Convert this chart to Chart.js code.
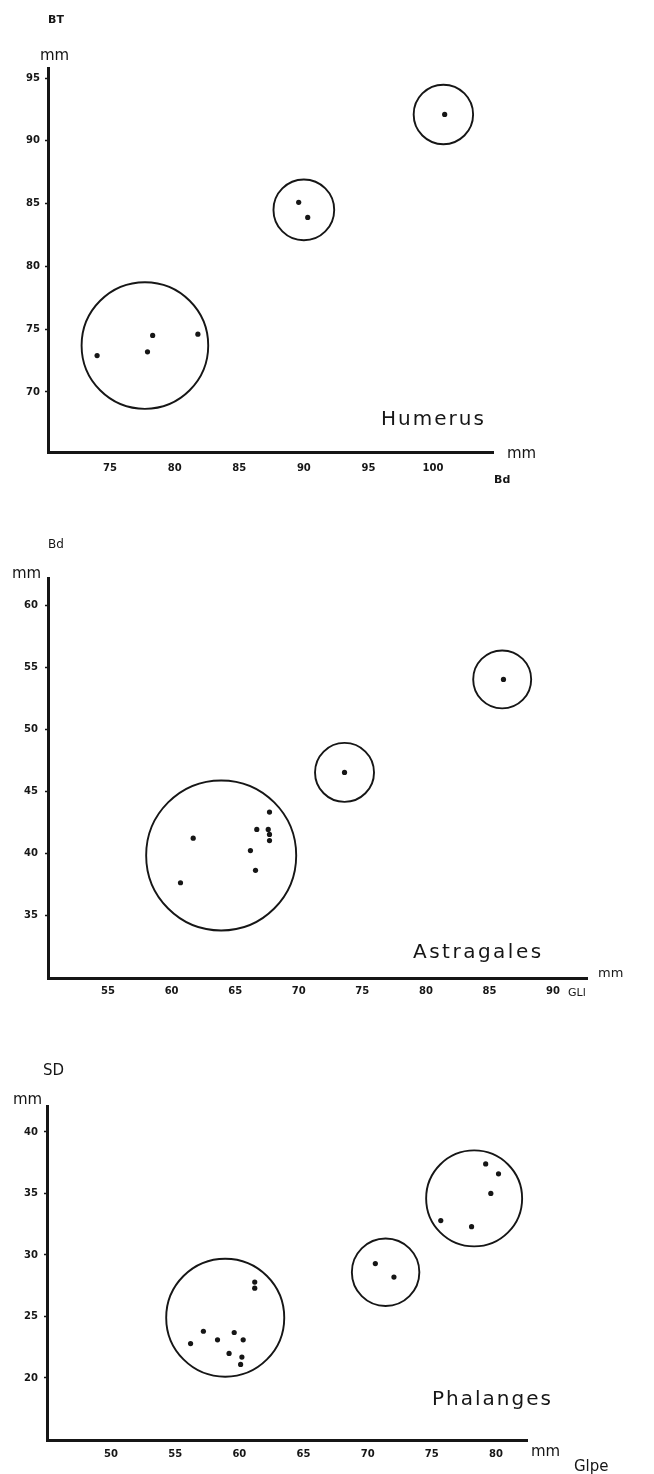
<!DOCTYPE html>
<html lang="fr">
<head>
<meta charset="UTF-8">
<title>Humerus, Astragales, Phalanges</title>
<script src="https://cdn.jsdelivr.net/npm/chart.js@4.4.1/dist/chart.umd.min.js"></script>
<style>
    body { margin: 0; background: #fff; }
    .box { position: absolute; left: 0; width: 654px; }
    canvas { display: block; }
</style>
</head>
<body>
<div class="box" style="top:0px"><canvas id="c1" width="654" height="490"></canvas></div>
<div class="box" style="top:490px"><canvas id="c2" width="654" height="515"></canvas></div>
<div class="box" style="top:1005px"><canvas id="c3" width="654" height="469"></canvas></div>
<script>
// Humerus : Bd (x) / BT (y), mm
const humBd = [74.0, 77.9, 78.3, 81.8, 89.6, 90.3, 100.9];
const humBT = [72.9, 73.2, 74.5, 74.6, 85.1, 83.9, 92.1];
const humGroupBd = [77.7, 90.0, 100.8];
const humGroupBT = [73.7, 84.5, 92.1];
const humGroupR  = [4.9, 2.35, 2.3];   // rayon du cercle, en mm

// Astragales : GLl (x) / Bd (y)
const astGL = [61.7, 60.7, 66.7, 66.2, 66.6, 67.7, 67.6, 67.7, 67.7, 73.6, 86.1];
const astBd = [41.2, 37.6, 41.9, 40.2, 38.6, 43.3, 41.9, 41.5, 41.0, 46.5, 54.0];
const astGroupGL = [63.9, 73.6, 86.0];
const astGroupBd = [39.8, 46.5, 54.0];
const astGroupR  = [5.9, 2.32, 2.28];

// Phalanges : Glpe (x) / SD (y)
const phaGlpe = [56.2, 57.2, 58.3, 59.2, 59.6, 60.3, 60.2, 60.1, 61.2, 61.2,
                 70.6, 72.05, 79.2, 80.2, 79.6, 75.7, 78.1];
const phaSD   = [22.8, 23.8, 23.1, 22.0, 23.7, 23.1, 21.7, 21.1, 27.8, 27.3,
                 29.3, 28.2, 37.4, 36.6, 35.0, 32.8, 32.3];
const phaGroupGlpe = [58.9, 71.4, 78.3];
const phaGroupSD   = [24.9, 28.6, 34.6];
const phaGroupR    = [4.6, 2.63, 3.74];

const tickStep = 5;
const ink = '#161616';

// texte libre (titres d'axes, nom de l'os)
const notesPlugin = {
    id: 'notes',
    afterDraw(chart, args, opts) {
        const ctx = chart.ctx;
        ctx.save();
        ctx.fillStyle = ink;
        ctx.textBaseline = 'alphabetic';
        (opts.items || []).forEach(n => {
            ctx.font = n.font;
            ctx.letterSpacing = (n.ls || 0) + 'px';
            ctx.fillText(n.text, n.x, n.y);
        });
        ctx.restore();
    }
};

function toPoints(xs, ys) {
    return xs.map((x, i) => ({ x: x, y: ys[i] }));
}

// pas de graduation collée à l'origine
function dropCornerTick(s) {
    s.ticks = s.ticks.filter(t => t.value >= s.min + 1);
}

function makeChart(id, cfg) {
    const rings = toPoints(cfg.gx, cfg.gy);
    return new Chart(document.getElementById(id), {
        type: 'scatter',
        data: {
            datasets: [
                {
                    data: toPoints(cfg.xs, cfg.ys),
                    pointRadius: 2.6,
                    pointBackgroundColor: ink,
                    pointBorderWidth: 0
                },
                {
                    data: rings,
                    pointBackgroundColor: 'rgba(0,0,0,0)',
                    pointBorderColor: ink,
                    pointBorderWidth: 1.9,
                    // rayon donné en mm, converti par l'échelle x
                    pointRadius: c => {
                        const sx = c.chart.scales.x;
                        const p = rings[c.dataIndex];
                        return sx.getPixelForValue(p.x + cfg.gr[c.dataIndex]) - sx.getPixelForValue(p.x);
                    }
                }
            ]
        },
        options: {
            responsive: false,
            animation: false,
            events: [],
            layout: { padding: { top: cfg.area.top, right: cfg.area.right, left: 0, bottom: 0 } },
            plugins: {
                legend: { display: false },
                tooltip: { enabled: false },
                notes: { items: cfg.notes }
            },
            scales: {
                x: {
                    type: 'linear',
                    min: cfg.xr[0], max: cfg.xr[1],
                    border: { display: true, width: 3, color: ink },
                    grid: { drawOnChartArea: false, drawTicks: false },
                    ticks: {
                        stepSize: tickStep, includeBounds: false, autoSkip: false,
                        maxRotation: 0, padding: cfg.xpad, color: ink,
                        font: { family: 'DejaVu Sans', size: 10, weight: 'bold' }
                    },
                    afterBuildTicks: dropCornerTick,
                    afterFit: s => { s.height = cfg.area.xh; }
                },
                y: {
                    type: 'linear',
                    min: cfg.yr[0], max: cfg.yr[1],
                    border: { display: true, width: 3, color: ink },
                    grid: { drawOnChartArea: false, tickLength: 3, tickWidth: 1.5, tickColor: ink },
                    ticks: {
                        stepSize: tickStep, includeBounds: false, autoSkip: false,
                        padding: cfg.ypad, color: ink,
                        font: { family: 'DejaVu Sans', size: 10, weight: 'bold' }
                    },
                    afterBuildTicks: dropCornerTick,
                    afterFit: s => { s.width = cfg.area.left; }
                }
            }
        },
        plugins: [notesPlugin]
    });
}

makeChart('c1', {
    xs: humBd, ys: humBT, gx: humGroupBd, gy: humGroupBT, gr: humGroupR,
    xr: [70.2, 104.64], yr: [65.22, 95.8],
    area: { top: 68, right: 161, left: 48, xh: 38 },
    xpad: 10, ypad: 5,
    notes: [
        { text: 'BT', x: 48, y: 23, font: 'bold 11px "DejaVu Sans"' },
        { text: 'mm', x: 40, y: 60, font: '15px "DejaVu Sans"' },
        { text: 'Humerus', x: 381, y: 425, font: '20px "DejaVu Sans"', ls: 2 },
        { text: 'mm', x: 507, y: 458, font: '15px "DejaVu Sans"' },
        { text: 'Bd', x: 494, y: 483, font: 'bold 11px "DejaVu Sans"' }
    ]
});

makeChart('c2', {
    xs: astGL, ys: astBd, gx: astGroupGL, gy: astGroupBd, gr: astGroupR,
    xr: [50.28, 92.67], yr: [29.92, 62.18],
    area: { top: 88, right: 67, left: 48, xh: 27 },
    xpad: 7, ypad: 7,
    notes: [
        { text: 'Bd', x: 48, y: 58, font: '12px "DejaVu Sans"' },
        { text: 'mm', x: 12, y: 88, font: '15px "DejaVu Sans"' },
        { text: 'Astragales', x: 413, y: 468, font: '20px "DejaVu Sans"', ls: 2.5 },
        { text: 'mm', x: 598, y: 487, font: '13px "DejaVu Sans"' },
        { text: 'GLl', x: 568, y: 506, font: '11px "DejaVu Sans"' }
    ]
});

makeChart('c3', {
    xs: phaGlpe, ys: phaSD, gx: phaGroupGlpe, gy: phaGroupSD, gr: phaGroupR,
    xr: [45.01, 82.42], yr: [14.96, 42.11],
    area: { top: 101, right: 127, left: 47, xh: 34 },
    xpad: 8, ypad: 6,
    notes: [
        { text: 'SD', x: 43, y: 70, font: '15px "DejaVu Sans"' },
        { text: 'mm', x: 13, y: 99, font: '15px "DejaVu Sans"' },
        { text: 'Phalanges', x: 432, y: 400, font: '20px "DejaVu Sans"', ls: 2 },
        { text: 'mm', x: 531, y: 451, font: '15px "DejaVu Sans"' },
        { text: 'Glpe', x: 574, y: 466, font: '15px "DejaVu Sans"' }
    ]
});
</script>
</body>
</html>
